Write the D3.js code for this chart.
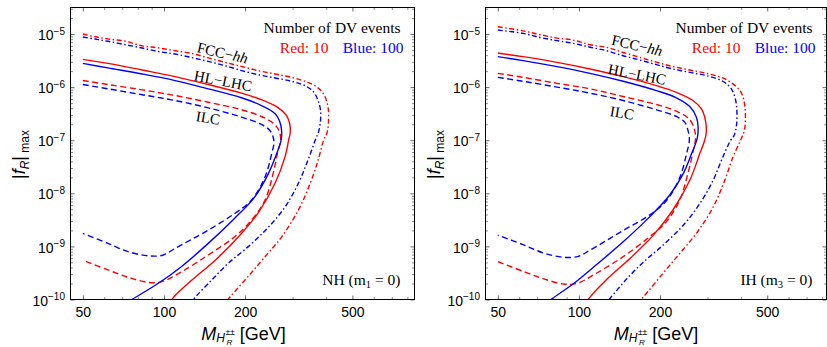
<!DOCTYPE html>
<html>
<head>
<meta charset="utf-8">
<script src="https://cdn.jsdelivr.net/npm/d3@7/dist/d3.min.js"></script>
<style>
  body { margin: 0; background: #fff; }
  svg { display: block; }
  .serif { font-family: "Liberation Serif", "Times New Roman", serif; }
  .sans { font-family: "Liberation Sans", Arial, sans-serif; }
</style>
</head>
<body>
<svg id="chart" width="827" height="347"></svg>
<script>
// ── Data: [M (GeV), |f_R|max] ───────────────────────────────────────────────
// NH (m1 = 0)
const nhFccRed = [[50,1.0e-5],[55.5,8.9e-6],[62,8.1e-6],[72,7.3e-6],[83,6.0e-6],[95,5.5e-6],[110,4.85e-6],[127,4.3e-6],[146,3.55e-6],[168,2.95e-6],[194,2.45e-6],[223,2.05e-6],[258,1.77e-6],[297,1.53e-6],[342,1.23e-6],[373,9.7e-7],[394,6.9e-7],[406,4.2e-7],[408,2.5e-7],[403,1.4e-7],[391,1.0e-7],[373,4.2e-8],[348,1.5e-8],[315,4.8e-9],[273,1.5e-9],[237,6.4e-10],[205,2.7e-10],[176,1.13e-10],[168,8.5e-11]];
const nhFccBlue = [[50,8.8e-6],[55.5,8.05e-6],[62,7.3e-6],[72,6.3e-6],[83,5.45e-6],[95,4.7e-6],[110,4.2e-6],[127,3.6e-6],[146,3.05e-6],[168,2.55e-6],[194,2.05e-6],[223,1.72e-6],[258,1.49e-6],[297,1.29e-6],[333,1.07e-6],[357,8.4e-7],[373,5.6e-7],[381,3.6e-7],[380,2.1e-7],[374,1.4e-7],[364,1.0e-7],[342,4.2e-8],[315,1.53e-8],[281,5.5e-9],[244,2.3e-9],[205,9.8e-10],[173,4.8e-10],[150,2.3e-10],[132,1.17e-10],[125,8.5e-11]];
const nhHlRed = [[50,3.33e-6],[62,2.8e-6],[83,2.1e-6],[110,1.58e-6],[146,1.12e-6],[194,7.7e-7],[230,5.8e-7],[265,4.1e-7],[285,2.9e-7],[293,2.0e-7],[294,1.4e-7],[290,1.0e-7],[281,4.8e-8],[258,1.53e-8],[223,4.2e-9],[189,1.52e-9],[155,5.5e-10],[127,2.33e-10],[109,1.13e-10],[105,8.5e-11]];
const nhHlBlue = [[50,2.8e-6],[62,2.3e-6],[83,1.77e-6],[110,1.33e-6],[146,9.3e-7],[194,6.3e-7],[230,4.5e-7],[258,3.2e-7],[268,2.35e-7],[273,1.55e-7],[272,1.0e-7],[262,5.6e-8],[244,2.35e-8],[217,8.5e-9],[183,3.4e-9],[146,1.14e-9],[116,4.15e-10],[95,2.0e-10],[76,1.0e-10],[72,8.5e-11]];
const nhIlcRed = [[50,1.33e-6],[62,1.12e-6],[83,8.9e-7],[110,6.95e-7],[146,5.2e-7],[194,3.75e-7],[230,2.8e-7],[254,2.1e-7],[267,1.53e-7],[271,1.0e-7],[265,6.4e-8],[254,2.35e-8],[237,7.4e-9],[211,3.1e-9],[183,1.52e-9],[146,6.9e-10],[116,3.3e-10],[98,2.17e-10],[87.5,2.1e-10],[74,2.6e-10],[62,3.6e-10],[50,5.5e-10]];
const nhIlcBlue = [[50,1.12e-6],[62,9.3e-7],[83,7.2e-7],[110,5.6e-7],[146,4.07e-7],[194,2.72e-7],[230,1.98e-7],[247,1.53e-7],[254,1.15e-7],[256,9e-8],[251,5.6e-8],[237,2.03e-8],[211,7.4e-9],[183,4.17e-9],[146,2.03e-9],[110,9.2e-10],[99.5,6.9e-10],[88.7,6.6e-10],[74,7.9e-10],[62,1.14e-9],[50,1.76e-9]];

// IH (m3 = 0)
const ihFccRed = [[50,1.37e-5],[62,1.15e-5],[72,9.7e-6],[83,8.4e-6],[95,7.7e-6],[110,6.3e-6],[127,5.6e-6],[146,4.5e-6],[168,3.65e-6],[194,2.95e-6],[223,2.45e-6],[258,2.1e-6],[297,1.82e-6],[342,1.49e-6],[373,1.15e-6],[400,8.0e-7],[412,4.8e-7],[415,2.7e-7],[411,1.5e-7],[398,1.0e-7],[373,4.8e-8],[348,1.76e-8],[315,5.5e-9],[273,1.76e-9],[237,7.4e-10],[205,3.1e-10],[173,1.1e-10],[165,8.5e-11]];
const ihFccBlue = [[50,1.19e-5],[62,1.03e-5],[72,8.6e-6],[83,7.5e-6],[95,6.7e-6],[110,5.65e-6],[127,4.85e-6],[146,3.9e-6],[168,3.25e-6],[194,2.65e-6],[223,2.2e-6],[258,1.9e-6],[297,1.65e-6],[342,1.29e-6],[368,9.3e-7],[382,5.6e-7],[386,3.2e-7],[384,1.8e-7],[376,1.2e-7],[366,1.0e-7],[342,4.8e-8],[315,1.76e-8],[281,6.4e-9],[244,2.5e-9],[205,1.05e-9],[173,5.0e-10],[150,2.4e-10],[131,1.08e-10],[126,8.5e-11]];
const ihHlRed = [[50,4.4e-6],[62,3.75e-6],[83,2.93e-6],[110,2.2e-6],[146,1.58e-6],[194,1.07e-6],[230,8.0e-7],[265,5.6e-7],[285,3.9e-7],[295,2.35e-7],[297,1.4e-7],[293,1.0e-7],[281,5.6e-8],[258,1.76e-8],[223,4.8e-9],[189,1.63e-9],[155,6.0e-10],[127,2.4e-10],[109,1.05e-10],[106,8.5e-11]];
const ihHlBlue = [[50,3.75e-6],[62,3.16e-6],[83,2.43e-6],[110,1.82e-6],[146,1.29e-6],[194,8.6e-7],[230,6.3e-7],[258,4.3e-7],[273,2.7e-7],[277,1.77e-7],[275,1.1e-7],[262,5.6e-8],[244,2.35e-8],[217,9.2e-9],[183,3.6e-9],[146,1.22e-9],[116,4.5e-10],[95.6,2.0e-10],[79.5,1.03e-10],[76,8.5e-11]];
const ihIlcRed = [[50,1.82e-6],[62,1.53e-6],[83,1.18e-6],[110,9.3e-7],[146,6.65e-7],[194,4.7e-7],[230,3.52e-7],[254,2.65e-7],[267,1.77e-7],[271,1.1e-7],[266,6.5e-8],[254,2.4e-8],[237,7.6e-9],[211,2.9e-9],[183,1.52e-9],[146,6.4e-10],[116,3.12e-10],[98,2.0e-10],[87.5,1.96e-10],[74,2.45e-10],[62,3.4e-10],[50,5.15e-10]];
const ihIlcBlue = [[50,1.53e-6],[62,1.29e-6],[83,1.0e-6],[110,7.7e-7],[146,5.6e-7],[194,3.74e-7],[230,2.8e-7],[247,2.19e-7],[254,1.53e-7],[257,1.0e-7],[251,5.6e-8],[237,2.0e-8],[211,7.2e-9],[183,3.9e-9],[146,2.0e-9],[110,8.5e-10],[99.5,6.5e-10],[88.7,6.2e-10],[74,7.5e-10],[62,1.08e-9],[50,1.63e-9]];

// Ticks
const xMajorTicks = [50, 100, 200, 500];
const xMinorTicks = [60, 70, 80, 90, 300, 400, 600, 700, 800];
const yExponents = [-10, -9, -8, -7, -6, -5];
const yMinorTicks = [];
yExponents.forEach(k => { for (let m = 2; m <= 9; m++) yMinorTicks.push(m * Math.pow(10, k)); });

// ── Layout ──────────────────────────────────────────────────────────────────
const RED = '#ff0000', BLUE = '#0000ff';
const dashes = { solid: null, dashed: '6,3.5', dashdot: '5,2.5,1.5,2.5' };
const frameTop = 7.5, frameBottom = 299.5;
const yTopVal = Math.pow(10, -4.5);

const panels = [
  {
    x0: 70.5, x1: 414.5, xMax: 850, hier: 'NH', mIdx: '1', titleShift: 1,
    series: [
      { data: nhFccRed, color: RED, kind: 'dashdot' },
      { data: nhFccBlue, color: BLUE, kind: 'dashdot' },
      { data: nhIlcRed, color: RED, kind: 'dashed' },
      { data: nhIlcBlue, color: BLUE, kind: 'dashed' },
      { data: nhHlRed, color: RED, kind: 'solid' },
      { data: nhHlBlue, color: BLUE, kind: 'solid' },
    ],
    labels: { fcc: [222.5, 53, 13], hl: [223, 81, 11], ilc: [208, 118, 9] },
  },
  {
    x0: 485.5, x1: 826.5, xMax: 830, hier: 'IH', mIdx: '3', titleShift: 0,
    series: [
      { data: ihFccRed, color: RED, kind: 'dashdot' },
      { data: ihFccBlue, color: BLUE, kind: 'dashdot' },
      { data: ihIlcRed, color: RED, kind: 'dashed' },
      { data: ihIlcBlue, color: BLUE, kind: 'dashed' },
      { data: ihHlRed, color: RED, kind: 'solid' },
      { data: ihHlBlue, color: BLUE, kind: 'solid' },
    ],
    labels: { fcc: [637, 45.5, 13], hl: [637, 74.5, 11], ilc: [622, 113, 9] },
  },
];

const svg = d3.select('#chart');
const y = d3.scaleLog().domain([1e-10, yTopVal]).range([frameBottom, frameTop]);

function styleAxis(g, minor) {
  g.select('.domain').remove();
  g.selectAll('.tick line').attr('stroke', '#444').attr('stroke-width', minor ? 0.6 : 0.8);
}

panels.forEach((p, i) => {
  const x = d3.scaleLog().domain([45, p.xMax]).range([p.x0, p.x1]);
  const g = svg.append('g');

  // clip
  svg.append('clipPath').attr('id', 'clip' + i)
    .append('rect')
    .attr('x', p.x0).attr('y', frameTop)
    .attr('width', p.x1 - p.x0).attr('height', frameBottom - frameTop);

  // curves
  const line = d3.line()
    .x(d => x(d[0])).y(d => y(d[1]))
    .curve(d3.curveCatmullRom.alpha(0.5));
  const plot = g.append('g').attr('clip-path', `url(#clip${i})`);
  p.series.forEach(s => {
    plot.append('path')
      .attr('d', line(s.data))
      .attr('fill', 'none')
      .attr('stroke', s.color)
      .attr('stroke-width', 1.4)
      .attr('stroke-dasharray', dashes[s.kind]);
  });

  // bottom axis (major, labelled)
  const bottom = g.append('g').attr('transform', `translate(0,${frameBottom})`)
    .call(d3.axisBottom(x).tickValues(xMajorTicks).tickSize(-4).tickPadding(7.5).tickFormat(d3.format('d')));
  bottom.selectAll('text').attr('class', 'sans').attr('font-size', 14).attr('fill', '#000');
  styleAxis(bottom, false);
  styleAxis(g.append('g').attr('transform', `translate(0,${frameBottom})`)
    .call(d3.axisBottom(x).tickValues(xMinorTicks).tickSize(-2.5).tickFormat('')), true);

  // top axis (ticks only)
  styleAxis(g.append('g').attr('transform', `translate(0,${frameTop})`)
    .call(d3.axisTop(x).tickValues(xMajorTicks).tickSize(-4).tickFormat('')), false);
  styleAxis(g.append('g').attr('transform', `translate(0,${frameTop})`)
    .call(d3.axisTop(x).tickValues(xMinorTicks).tickSize(-2.5).tickFormat('')), true);

  // left axis with 10^k labels
  const left = g.append('g').attr('transform', `translate(${p.x0},0)`)
    .call(d3.axisLeft(y).tickValues(yExponents.map(k => Math.pow(10, k))).tickSize(-4).tickPadding(5.5).tickFormat(() => ''));
  left.selectAll('.tick text').each(function (d) {
    const t = d3.select(this).attr('class', 'sans').attr('font-size', 14).attr('fill', '#000').attr('dy', '0.4em');
    const k = Math.round(Math.log10(d));
    t.append('tspan').text('10');
    t.append('tspan').attr('font-size', 10).attr('dy', -5.5).text('\u2212' + Math.abs(k));
  });
  styleAxis(left, false);
  styleAxis(g.append('g').attr('transform', `translate(${p.x0},0)`)
    .call(d3.axisLeft(y).tickValues(yMinorTicks.filter(v => v < yTopVal)).tickSize(-2.5).tickFormat('')), true);

  // right axis (ticks only)
  styleAxis(g.append('g').attr('transform', `translate(${p.x1},0)`)
    .call(d3.axisRight(y).tickValues(yExponents.map(k => Math.pow(10, k))).tickSize(-4).tickFormat('')), false);
  styleAxis(g.append('g').attr('transform', `translate(${p.x1},0)`)
    .call(d3.axisRight(y).tickValues(yMinorTicks.filter(v => v < yTopVal)).tickSize(-2.5).tickFormat('')), true);

  // frame
  g.append('rect')
    .attr('x', p.x0).attr('y', frameTop)
    .attr('width', p.x1 - p.x0).attr('height', frameBottom - frameTop)
    .attr('fill', 'none').attr('stroke', '#000').attr('stroke-width', 1);

  // curve labels
  const lab = (pos, build) => {
    const t = g.append('text').attr('class', 'serif').attr('font-size', 15)
      .attr('text-anchor', 'middle').attr('dominant-baseline', 'central')
      .attr('transform', `translate(${pos[0]},${pos[1]}) rotate(${pos[2]})`);
    build(t);
  };
  lab(p.labels.fcc, t => { t.append('tspan').text('FCC\u2212'); t.append('tspan').attr('font-style', 'italic').text('hh'); });
  lab(p.labels.hl, t => t.text('HL\u2212LHC'));
  lab(p.labels.ilc, t => t.text('ILC'));

  // legend
  const lx = p.x1 - 14;
  g.append('text').attr('class', 'serif').attr('font-size', 15.5).attr('text-anchor', 'end')
    .attr('x', lx).attr('y', 32.5).text('Number of DV events');
  g.append('text').attr('class', 'serif').attr('font-size', 15.5).attr('text-anchor', 'end')
    .attr('fill', BLUE).attr('x', lx + 3).attr('y', 52.5).text('Blue: 100');
  g.append('text').attr('class', 'serif').attr('font-size', 15.5).attr('text-anchor', 'end')
    .attr('fill', RED).attr('x', lx - 72).attr('y', 52.5).text('Red: 10');

  // hierarchy tag
  const h = g.append('text').attr('class', 'serif').attr('font-size', 15.5).attr('text-anchor', 'end')
    .attr('x', p.x1 - 14).attr('y', 285);
  h.append('tspan').text(p.hier + ' (m');
  h.append('tspan').attr('font-size', 10.5).attr('dy', 3).text(p.mIdx);
  h.append('tspan').attr('dy', -3).text(' = 0)');

  // y-axis title |f_R|_max
  const cy = (frameTop + frameBottom) / 2 + 1;
  const yt = g.append('text').attr('class', 'sans').attr('font-size', 18).attr('text-anchor', 'middle')
    .attr('transform', `translate(${p.x0 - 46},${cy}) rotate(-90)`);
  yt.append('tspan').text('|');
  yt.append('tspan').attr('font-style', 'italic').text('f');
  yt.append('tspan').attr('font-style', 'italic').attr('font-size', 12).attr('dy', 4).text('R');
  yt.append('tspan').attr('dy', -4).text('|');
  yt.append('tspan').attr('font-size', 12).attr('dy', 4).text(' max');

  // x-axis title M_{H_R^{±±}} [GeV]
  const xt = g.append('g').attr('class', 'sans');
  const base = 339.5;
  const tM = xt.append('text').attr('font-size', 18).attr('font-style', 'italic').attr('y', base).text('M');
  let cx = tM.node().getComputedTextLength();
  const tH = xt.append('text').attr('font-size', 12).attr('font-style', 'italic').attr('x', cx).attr('y', base + 2.5).text('H');
  cx += tH.node().getComputedTextLength() + 0.5;
  const tPM = xt.append('text').attr('font-size', 8.5).attr('x', cx).attr('y', base - 5).text('\u00b1\u00b1');
  xt.append('text').attr('font-size', 8).attr('font-style', 'italic').attr('x', cx + 1).attr('y', base + 5).text('R');
  cx += tPM.node().getComputedTextLength();
  const tG = xt.append('text').attr('font-size', 18).attr('x', cx).attr('y', base).text('\u00a0[GeV]');
  cx += tG.node().getComputedTextLength();
  const xc = x(Math.sqrt(45 * p.xMax)) + p.titleShift;
  xt.attr('transform', `translate(${xc - cx / 2},0)`);
});
</script>
</body>
</html>
